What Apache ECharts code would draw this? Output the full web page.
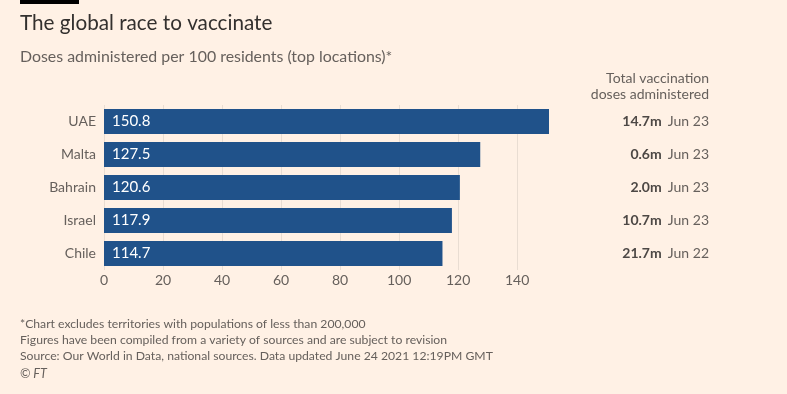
<!DOCTYPE html>
<html><head><meta charset="utf-8">
<script src="https://cdn.jsdelivr.net/npm/echarts@6/dist/echarts.min.js"></script>
<style>html,body{margin:0;padding:0;background:#fff1e5}#c{width:787px;height:394px}</style>
</head><body><div id="c"></div>
<script>
var countries = ['UAE', 'Malta', 'Bahrain', 'Israel', 'Chile'];
var dosesPer100 = [150.8, 127.5, 120.6, 117.9, 114.7];
var totalDoses = ['14.7m', '0.6m', '2.0m', '10.7m', '21.7m'];
var updated = ['Jun 23', 'Jun 23', 'Jun 23', 'Jun 23', 'Jun 22'];
var xTicks = [0, 20, 40, 60, 80, 100, 120, 140];

var FONT = 'Lato, "Open Sans", sans-serif';
var chart = echarts.init(document.getElementById('c'));
chart.setOption({
  backgroundColor: '#fff1e5',
  animation: false,
  textStyle: { fontFamily: FONT },
  graphic: [
    { type: 'rect', shape: { x: 20, y: 0, width: 59, height: 4 }, style: { fill: '#000000' } },
    { type: 'text', x: 20, y: 23, style: {
      text: 'The global race to vaccinate', font: '20.7px ' + FONT, fill: '#33302e', textVerticalAlign: 'middle' } },
    { type: 'text', x: 20, y: 57, style: {
      text: 'Doses administered per 100 residents (top locations)*', font: '15.9px ' + FONT, fill: '#66605c', textVerticalAlign: 'middle' } },
    { type: 'text', x: 709, y: 78, style: {
      text: 'Total vaccination', font: '14px ' + FONT, fill: '#66605c', textAlign: 'right', textVerticalAlign: 'middle' } },
    { type: 'text', x: 709, y: 94, style: {
      text: 'doses administered', font: '14px ' + FONT, fill: '#66605c', textAlign: 'right', textVerticalAlign: 'middle' } },
    { type: 'text', left: 20, top: 316, style: {
      text: '*Chart excludes territories with populations of less than 200,000\nFigures have been compiled from a variety of sources and are subject to revision\nSource: Our World in Data, national sources. Data updated June 24 2021 12:19PM GMT',
      font: '12.2px ' + FONT, fill: '#66605c', lineHeight: 16 } },
    { type: 'text', left: 20, top: 367, style: {
      text: '© FT', font: 'italic 12.5px ' + FONT, fill: '#66605c' } }
  ],
  grid: { left: 104, top: 105, width: 445, height: 165, containLabel: false },
  xAxis: {
    type: 'value', min: 0, max: 150.8, interval: 20,
    axisLine: { show: false }, axisTick: { show: false },
    splitLine: { show: true, showMaxLine: false, lineStyle: { color: '#e9ddd2', width: 1 } },
    axisLabel: { color: '#66605c', fontSize: 14, margin: 3, showMaxLabel: false,
      formatter: function (v) { return xTicks.indexOf(v) >= 0 ? String(v) : ''; } }
  },
  yAxis: [
    { type: 'category', data: countries, inverse: true,
      axisLine: { show: false }, axisTick: { show: false },
      axisLabel: { color: '#66605c', fontSize: 14, margin: 8 } },
    { type: 'category', data: countries, inverse: true, position: 'right',
      axisLine: { show: false }, axisTick: { show: false },
      axisLabel: { align: 'right', margin: 160,
        formatter: function (v, i) { return '{b|' + totalDoses[i] + '}  {d|' + updated[i] + '}'; },
        rich: {
          b: { fontFamily: FONT, fontWeight: 'bold', fontSize: 14, color: '#4d4845' },
          d: { fontFamily: FONT, fontSize: 14, color: '#66605c' }
        } } }
  ],
  series: [{
    type: 'bar', data: dosesPer100, barCategoryGap: '24%',
    itemStyle: { color: '#20528a' },
    label: { show: true, position: 'insideLeft', distance: 8, color: '#ffffff', fontSize: 15, fontFamily: FONT,
      formatter: function (p) { return p.value.toFixed(1); } }
  }]
});
</script></body></html>
